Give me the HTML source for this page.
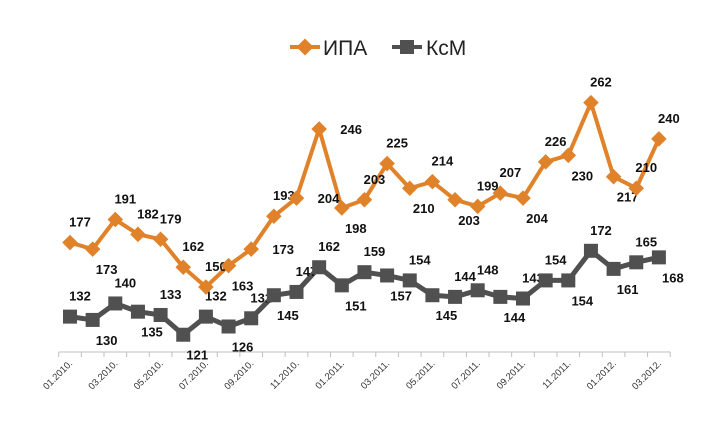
<!DOCTYPE html>
<html><head><meta charset="utf-8"><style>
html,body{margin:0;padding:0;background:#fff;}
svg{display:block;font-family:"Liberation Sans",Arial,sans-serif;}
</style></head><body>
<svg id="chart" width="718" height="435">
<g id="legend">
 <g>
  <line x1="290" y1="47" x2="320" y2="47" stroke="#E0822A" stroke-width="4"/>
  <rect x="299" y="41" width="12" height="12" fill="#E0822A" transform="rotate(45 305 47)"/>
  <text x="323" y="55" font-size="21" fill="#222">ИПА</text>
 </g>
 <g>
  <line x1="392" y1="47" x2="422" y2="47" stroke="#505050" stroke-width="4"/>
  <rect x="400" y="40" width="14" height="14" fill="#505050"/>
  <text x="426" y="55" font-size="21" fill="#222">КсМ</text>
 </g>
</g>
</svg>
<script>
const categories=["01.2010.","02.2010.","03.2010.","04.2010.","05.2010.","06.2010.","07.2010.","08.2010.","09.2010.","10.2010.","11.2010.","12.2010.","01.2011.","02.2011.","03.2011.","04.2011.","05.2011.","06.2011.","07.2011.","08.2011.","09.2011.","10.2011.","11.2011.","12.2011.","01.2012.","02.2012.","03.2012."];
const ipaValues=[177,173,191,182,179,162,150,163,173,193,204,246,198,203,225,210,214,203,199,207,204,226,230,262,217,210,240];
const ksmValues=[132,130,140,135,133,121,132,126,131,145,147,162,151,159,157,154,145,144,148,144,143,154,154,172,161,165,168];
const ipaLabelSide=["a","b","a","a","a","a","a","b","r","a","r","r","b","a","a","b","a","b","a","a","b","a","b","a","b","a","a"];
const ksmLabelSide=["a","b","a","b","a","b","a","b","a","b","a","a","b","a","b","a","b","a","a","b","a","a","b","a","b","a","b"];

const NS="http://www.w3.org/2000/svg";
const svg=document.getElementById('chart');
const x0=70,dx=22.65,axisY=352;
function xScale(i){return x0+i*dx;}
function yScale(v){return 287-(v-150)*1.646;}
function el(tag,attrs,parent){const e=document.createElementNS(NS,tag);for(const k in attrs)e.setAttribute(k,attrs[k]);(parent||svg).appendChild(e);return e;}

// axis
const axis=el('g',{});


const al=el('line',{x1:xScale(0)-dx/2,x2:xScale(categories.length-1)+dx/2,y1:axisY,y2:axisY,stroke:'#bfbfbf','stroke-width':1},axis);


for(let i=0;i<=categories.length;i++){
  const tx=xScale(i)-dx/2;
  const t=el('line',{x1:tx,x2:tx,y1:axisY,y2:axisY+5,stroke:'#bfbfbf'},axis);
  
  
}
categories.forEach((c,i)=>{
  if(i%2!==0)return;
  const x=xScale(i)+3,y=axisY+12;
  const t=el('text',{x:x,y:y,'font-size':9.5,fill:'#333','text-anchor':'end',transform:`rotate(-45 ${x} ${y})`},axis);
  t.textContent=c;
  
  
});

function drawSeries(vals,color,marker,sides,name){
  const g=el('g',{});
  
  
  const pts=vals.map((v,i)=>xScale(i)+','+yScale(v)).join(' ');
  const pl=el('polyline',{points:pts,fill:'none',stroke:color,'stroke-width':marker==='square'?5:4,'stroke-linejoin':'round'},g);
  
  
  vals.forEach((v,i)=>{
    const x=xScale(i),y=yScale(v);
    let m;
    if(marker==='square') m=el('rect',{x:x-7,y:y-7,width:14,height:14,fill:color},g);
    else m=el('rect',{x:x-5.5,y:y-5.5,width:11,height:11,fill:color,transform:`rotate(45 ${x} ${y})`},g);
    
    
    const s=sides[i];
    let lx=x+10,ly=y-16;
    if(s==='b'){lx=x+14;ly=y+25;}
    if(s==='r'){lx=x+32;ly=y+5;}
    const t=el('text',{x:lx,y:ly,'font-size':13,'font-weight':'bold',fill:'#111','text-anchor':'middle'},g);
    t.textContent=v;
    
    
  });
}
drawSeries(ksmValues,'#505050','square',ksmLabelSide,'ksm');
drawSeries(ipaValues,'#E0822A','diamond',ipaLabelSide,'ipa');
</script>
</body></html>
